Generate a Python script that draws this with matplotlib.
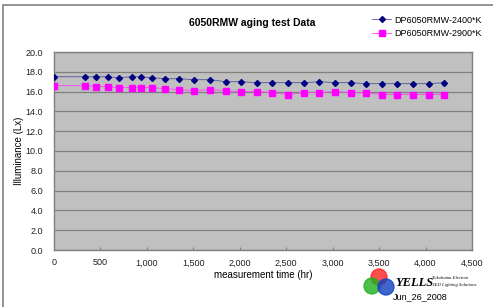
import matplotlib.pyplot as plt
from matplotlib.patches import Ellipse
from matplotlib.lines import Line2D

plt.rcParams['font.family'] = ['Liberation Sans', 'DejaVu Sans']

hours = [0, 336, 456, 576, 696, 840, 936, 1056, 1200, 1344, 1512, 1680, 1848, 2016,
         2184, 2352, 2520, 2688, 2856, 3024, 3192, 3360, 3528, 3696, 3864, 4032, 4200]
lux_2400 = [17.5, 17.5, 17.5, 17.5, 17.4, 17.5, 17.5, 17.4, 17.3, 17.3, 17.2, 17.2, 17.0, 17.0,
            16.9, 16.9, 16.9, 16.9, 17.0, 16.9, 16.9, 16.8, 16.8, 16.8, 16.8, 16.8, 16.9]
lux_2900 = [16.6, 16.6, 16.5, 16.5, 16.4, 16.4, 16.4, 16.4, 16.3, 16.2, 16.1, 16.2, 16.1, 16.0,
            16.0, 15.9, 15.7, 15.9, 15.9, 16.0, 15.9, 15.9, 15.7, 15.7, 15.7, 15.7, 15.7]
labels = ['DP6050RMW-2400*K', 'DP6050RMW-2900*K']

W, H = 493, 307
fig = plt.figure(figsize=(W / 100, H / 100), dpi=100)

# outer chart frame
fig.add_artist(plt.Rectangle((3 / W, -0.1), 1.1, (H - 5) / H + 0.1, transform=fig.transFigure,
                             fill=False, edgecolor='#808080', linewidth=1.2))

ax = fig.add_axes([54 / W, 57 / H, (472 - 54) / W, (250 - 52) / H])
ax.set_facecolor('#C0C0C0')

ax.plot(hours, lux_2400, color='#5050A0', linewidth=0.6, marker='D', markersize=3,
        markerfacecolor='#000080', markeredgecolor='#000080', zorder=3)
ax.plot(hours, lux_2900, color='#FF40FF', linewidth=0.6, marker='s', markersize=4,
        markerfacecolor='#FF00FF', markeredgecolor='#FF00FF', zorder=3)

ax.set_xlim(0, 4500)
ax.set_ylim(0, 20)
ax.set_xticks(range(0, 4501, 500))
ax.set_xticklabels([f'{v:,}' for v in range(0, 4501, 500)])
ax.set_yticks([v * 2 for v in range(11)])
ax.set_yticklabels([f'{v * 2:.1f}' for v in range(11)])
ax.grid(axis='y', color='#808080', linewidth=0.9)
ax.set_axisbelow(True)
for s in ax.spines.values():
    s.set_color('#808080')
    s.set_linewidth(1.0)
ax.tick_params(axis='both', labelsize=6.5, colors='#808080', labelcolor='#202020')
ax.tick_params(axis='x', direction='in', length=2, width=0.8, pad=6)
ax.tick_params(axis='y', length=0, pad=8)

ax.set_xlabel('measurement time (hr)', fontsize=7, labelpad=2)
ax.set_ylabel('Illuminance (Lx)', fontsize=7, labelpad=1)

fig.text(252 / W, 1 - 23 / H, '6050RMW aging test Data', fontsize=7.5, fontweight='bold',
         ha='center', va='center')

handles = [Line2D([], [], color='#5050A0', linewidth=0.6, marker='D', markersize=3,
                  markerfacecolor='#000080', markeredgecolor='#000080'),
           Line2D([], [], color='#FF40FF', linewidth=0.6, marker='s', markersize=4,
                  markerfacecolor='#FF00FF', markeredgecolor='#FF00FF')]
fig.legend(handles, labels, loc='upper left', bbox_to_anchor=(368 / W, 1 - 12 / H),
           frameon=False, fontsize=6.5, handlelength=2.2, handletextpad=0.3,
           labelspacing=0.45, borderaxespad=0)

# logo
r = 8
for cx, cy, c in [(379, 277, '#FF2020'), (372, 286, '#20B020'), (386, 287, '#1040C0')]:
    fig.add_artist(Ellipse((cx / W, 1 - cy / H), 2 * r / W, 2 * r / H,
                           transform=fig.transFigure, color=c, alpha=0.8))
fig.text(395 / W, 1 - 283 / H, 'YELLS', fontsize=9, fontweight='bold', style='italic',
         family='Liberation Serif', ha='left', va='center')
fig.text(432 / W, 1 - 278 / H, 'Yokohama Electron', fontsize=3.3, style='italic',
         family='Liberation Serif', ha='left', va='center')
fig.text(432 / W, 1 - 285 / H, 'LED Lighting Solutions', fontsize=3.3, style='italic',
         family='Liberation Serif', ha='left', va='center')
fig.text(420 / W, 1 - 297 / H, 'Jun_26_2008', fontsize=6.5, ha='center', va='center')

fig.savefig('out.png', dpi=100)
